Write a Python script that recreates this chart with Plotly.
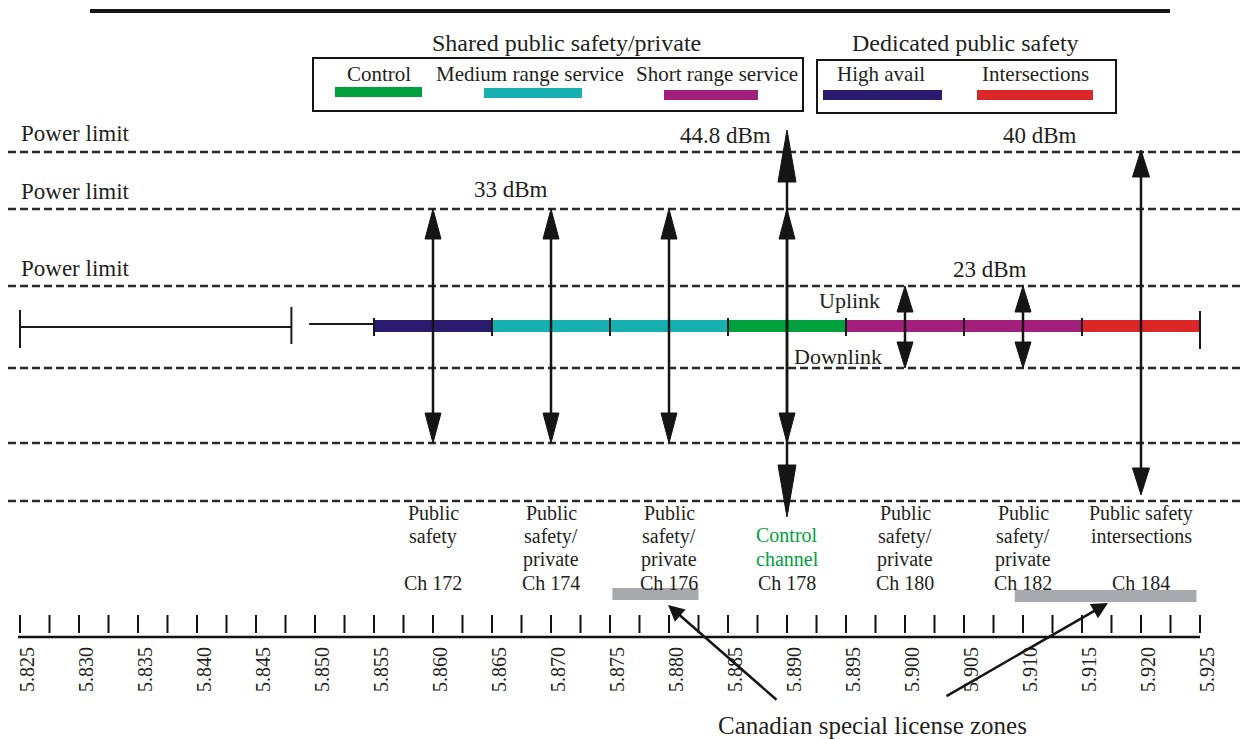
import plotly.graph_objects as go

W, H = 1240, 739
PX_PER_GHZ = 11800.0
F_START, F_END = 5.825, 5.925

# ---------------- data ----------------
channels = [172, 174, 176, 178, 180, 182, 184]
channel_lo = [5.855, 5.865, 5.875, 5.885, 5.895, 5.905, 5.915]
channel_hi = [5.865, 5.875, 5.885, 5.895, 5.905, 5.915, 5.925]
channel_use = ["High avail", "Medium range service", "Medium range service", "Control",
               "Short range service", "Short range service", "Intersections"]
channel_desc = [
    ["Public", "safety", ""],
    ["Public", "safety/", "private"],
    ["Public", "safety/", "private"],
    ["", "Control", "channel"],
    ["Public", "safety/", "private"],
    ["Public", "safety/", "private"],
    ["Public safety", "intersections", ""],
]
shared_uses = ["Control", "Medium range service", "Short range service"]
dedicated_uses = ["High avail", "Intersections"]
use_colors = {
    "Control": "#00A03E",
    "Medium range service": "#17AFB0",
    "Short range service": "#A2207B",
    "High avail": "#2B1B6F",
    "Intersections": "#DB2727",
}
# power arrows (centre frequency, power limit in dBm)
arrow_freq = [5.860, 5.870, 5.880, 5.890, 5.890, 5.900, 5.910, 5.920]
arrow_dbm = [33, 33, 33, 33, 44.8, 23, 23, 40]
power_labels = ["44.8 dBm", "40 dBm", "33 dBm", "23 dBm"]
# Canadian special license zones (GHz)
canada_lo = [5.8752, 5.9093]
canada_hi = [5.8825, 5.9247]
# frequency axis
tick_minor = [round(5.825 + 0.0025 * i, 4) for i in range(41)]
tick_major = [round(5.825 + 0.005 * i, 3) for i in range(21)]
tick_text = ["%.3f" % v for v in tick_major]
# unlicensed lead-in segments
lead_lo = [5.825, 5.8495]
lead_hi = [5.848, 5.855]

# ---------------- layout helpers (pixel geometry) ----------------
X_RANGE = [F_START - 20 / PX_PER_GHZ, F_START + (W - 20) / PX_PER_GHZ]
BAND_Y = 326
ARROW_GEOM = {  # dBm: (top y, bottom y, head length, head width)
    33: (209, 443, 30, 16),
    44.8: (130, 517, 52, 18),
    23: (286, 368, 26, 16),
    40: (150, 495, 27, 17),
}
DASH_Y = [152, 209, 286, 368, 443, 501]
FONT = "Liberation Serif"
TXT = "#231F20"


def PX(x):
    return x / W


def PY(y):
    return 1 - y / H


def gx(px):
    return F_START + (px - 20) / PX_PER_GHZ


fig = go.Figure()
shapes = []
ann = []

# dashed power-limit lines
dx, dy = [], []
for y in DASH_Y:
    dx += [gx(8), X_RANGE[1], None]
    dy += [y, y, None]
fig.add_trace(go.Scatter(x=dx, y=dy, mode="lines",
                         line=dict(color="#2a2a2a", width=2.5, dash="8px,4px"),
                         hoverinfo="skip", showlegend=False))

# lead-in thin lines
fig.add_trace(go.Scatter(x=[lead_lo[0], lead_hi[0], None, lead_lo[1], lead_hi[1]],
                         y=[327, 327, None, 324, 324], mode="lines",
                         line=dict(color="#1a1a1a", width=2), hoverinfo="skip", showlegend=False))

# channel band bars
fig.add_trace(go.Bar(orientation="h", base=channel_lo,
                     x=[h - l for l, h in zip(channel_lo, channel_hi)],
                     y=[BAND_Y] * len(channels), width=12,
                     marker=dict(color=[use_colors[u] for u in channel_use], line=dict(width=0)),
                     hoverinfo="skip", showlegend=False))

# boundary ticks on band
tx, ty = [], []
for f, (a, b) in zip([lead_lo[0], lead_hi[0]], [(310, 348), (307, 344)]):
    tx += [f, f, None]
    ty += [a, b, None]
for f in channel_lo:
    tx += [f, f, None]
    ty += [318, 336, None]
tx += [channel_hi[-1], channel_hi[-1], None]
ty += [311, 349, None]
fig.add_trace(go.Scatter(x=tx, y=ty, mode="lines", line=dict(color="#1a1a1a", width=2),
                         hoverinfo="skip", showlegend=False))

# power arrows
sx, sy, hx, hy = [], [], [], []
for f, p in zip(arrow_freq, arrow_dbm):
    top, bot, hl, hw = ARROW_GEOM[p]
    sx += [f, f, None]
    sy += [top + 5, bot - 5, None]
    half = hw / 2 / PX_PER_GHZ
    hx += [f, f - half, f + half, f, None, f, f - half, f + half, f, None]
    hy += [top, top + hl, top + hl, top, None, bot, bot - hl, bot - hl, bot, None]
fig.add_trace(go.Scatter(x=sx, y=sy, mode="lines", line=dict(color="#151515", width=2.5),
                         hoverinfo="skip", showlegend=False))
fig.add_trace(go.Scatter(x=hx, y=hy, mode="lines", fill="toself", fillcolor="#151515",
                         line=dict(color="#151515", width=1),
                         hoverinfo="skip", showlegend=False))

# frequency axis line and ticks
mx, my = [], []
for t in tick_minor:
    mx += [t, t, None]
    my += [615, 633, None]
fig.add_trace(go.Scatter(x=mx, y=my, mode="lines", line=dict(color="#111", width=2),
                         hoverinfo="skip", showlegend=False))
fig.add_trace(go.Scatter(x=[gx(18), F_END], y=[637, 637], mode="lines",
                         line=dict(color="#111", width=2.5), hoverinfo="skip", showlegend=False))

# Canadian zones
for lo, hi, yc in zip(canada_lo, canada_hi, [594, 596]):
    shapes.append(dict(type="rect", xref="x", yref="y", x0=lo, x1=hi, y0=yc - 6, y1=yc + 6,
                       fillcolor="#A8A9AD", line=dict(width=0), layer="above"))

# top rule
shapes.append(dict(type="line", xref="paper", yref="paper", x0=PX(90), x1=PX(1170),
                   y0=PY(11), y1=PY(11), line=dict(color="#151515", width=4)))

# legend boxes
shapes.append(dict(type="rect", xref="paper", yref="paper", x0=PX(313), x1=PX(803),
                   y0=PY(58), y1=PY(111), line=dict(color="#151515", width=2)))
shapes.append(dict(type="rect", xref="paper", yref="paper", x0=PX(817), x1=PX(1116),
                   y0=PY(60), y1=PY(113), line=dict(color="#151515", width=2)))
legend_pos = {  # label centre x, bar x0, bar x1, bar y
    "Control": (379, 335, 422, 92),
    "Medium range service": (530, 484, 582, 93),
    "Short range service": (717, 664, 758, 95),
    "High avail": (881, 823, 942, 95),
    "Intersections": (1035, 977, 1093, 95),
}
for u in shared_uses + dedicated_uses:
    cx, x0, x1, by = legend_pos[u]
    shapes.append(dict(type="rect", xref="paper", yref="paper", x0=PX(x0), x1=PX(x1),
                       y0=PY(by + 5), y1=PY(by - 5), fillcolor=use_colors[u], line=dict(width=0)))
    ann.append(dict(text=u, x=PX(cx), y=PY(74), font=dict(size=21)))

ann.append(dict(text="Shared public safety/private", x=PX(566), y=PY(43), font=dict(size=24)))
ann.append(dict(text="Dedicated public safety", x=PX(965), y=PY(43), font=dict(size=24)))

for y in [134, 191, 268]:
    ann.append(dict(text="Power limit", x=PX(19), y=PY(y), xanchor="left", font=dict(size=23)))

ann.append(dict(text=power_labels[0], x=PX(773), y=PY(135), xanchor="right", font=dict(size=23)))
ann.append(dict(text=power_labels[1], x=PX(1040), y=PY(135), font=dict(size=23)))
ann.append(dict(text=power_labels[2], x=PX(511), y=PY(190), font=dict(size=23)))
ann.append(dict(text=power_labels[3], x=PX(990), y=PY(269), font=dict(size=23)))

ann.append(dict(text="Uplink", x=PX(882), y=PY(300), xanchor="right", font=dict(size=22)))
ann.append(dict(text="Downlink", x=PX(884), y=PY(356), xanchor="right", font=dict(size=22)))

# channel labels
for ch, lo, hi, desc in zip(channels, channel_lo, channel_hi, channel_desc):
    c = (lo + hi) / 2
    if ch == 178:
        ys = [535, 559]
        lines = desc[1:]
        col = "#00A03E"
    else:
        ys = [513, 536, 559]
        lines = desc
        col = TXT
    for t, y in zip(lines, ys):
        if t:
            ann.append(dict(text=t, x=c, xref="x", y=PY(y), borderpad=0,
                            font=dict(size=20, color=col)))
    ann.append(dict(text="Ch %d" % ch, x=c, xref="x", y=PY(583), borderpad=0,
                    font=dict(size=20)))

# Canadian note
ann.append(dict(text="Canadian special license zones", x=PX(873), y=PY(725), font=dict(size=25)))
for (tipx, tipy), (tailx, taily) in [((668, 605), (778, 701)), ((1108, 603), (945, 697))]:
    ann.append(dict(text="", x=gx(tipx), xref="x", y=tipy, yref="y",
                    ax=gx(tailx), axref="x", ay=taily, ayref="y",
                    showarrow=True, arrowhead=2, arrowsize=1.3, arrowwidth=2.5,
                    arrowcolor="#151515"))

for a in ann:
    a.setdefault("xref", "paper")
    a.setdefault("yref", "paper")
    a.setdefault("showarrow", False)
    a.setdefault("xanchor", "center")
    a.setdefault("yanchor", "middle")
    f = a.setdefault("font", {})
    f.setdefault("family", FONT)
    f.setdefault("color", TXT)

fig.update_layout(
    width=W, height=H, margin=dict(l=0, r=0, t=0, b=0),
    paper_bgcolor="white", plot_bgcolor="white",
    showlegend=False,
    shapes=shapes, annotations=ann,
    xaxis=dict(range=X_RANGE, domain=[0, 1], anchor="free", position=PY(637),
               showline=False, showgrid=False, zeroline=False, ticks="",
               tickvals=tick_major, ticktext=tick_text, tickangle=-90,
               ticklabelshift=7, ticklabelstandoff=5,
               tickfont=dict(family=FONT, size=20, color=TXT), fixedrange=True),
    yaxis=dict(range=[H, 0], domain=[0, 1], visible=False, fixedrange=True),
)

fig.write_html("out.html", config={"displayModeBar": False},
               post_script="document.body.style.margin='0';document.body.style.overflow='hidden';")
